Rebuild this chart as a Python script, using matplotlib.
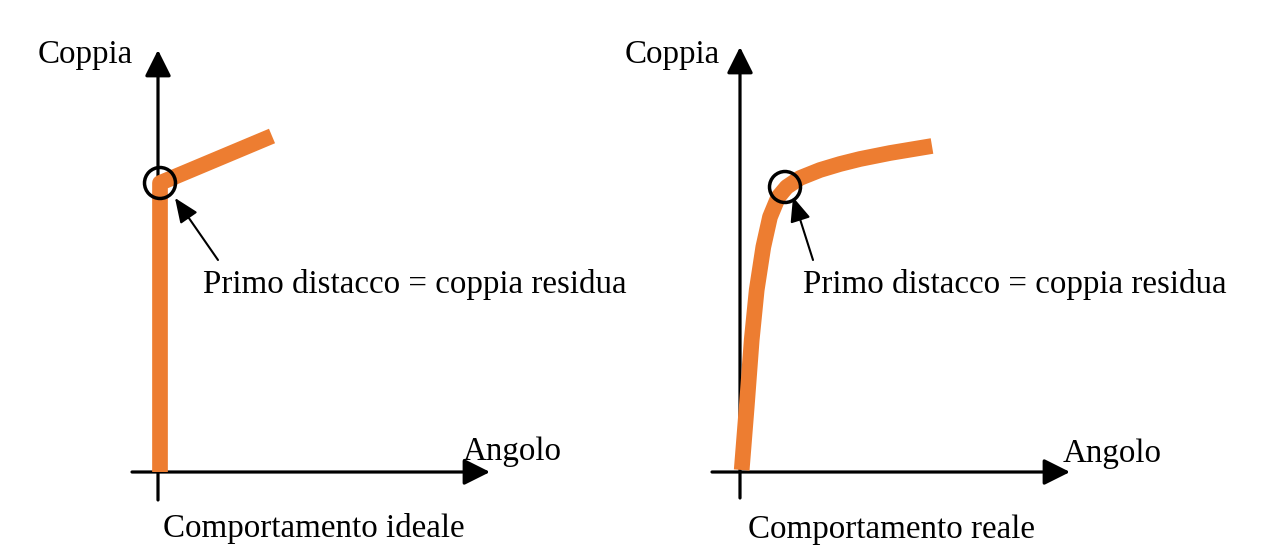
import matplotlib.pyplot as plt
from matplotlib.patches import Circle, FancyArrowPatch

# Comportamento ideale: verticale fino al primo distacco, poi retta
ideal_angle = [0.2, 0.2, 11.4]
ideal_torque = [0.0, 28.9, 33.6]

# Comportamento reale: salita curva fino al primo distacco
real_angle = [0.17, 0.67, 1.17, 1.67, 2.33, 3.0, 3.83, 4.67, 6.0, 8.0, 10.0, 12.0, 15.0, 19.2]
real_torque = [0.2, 6.5, 13.2, 18.2, 22.5, 25.5, 27.5, 28.5, 29.4, 30.2, 30.8, 31.3, 31.9, 32.6]

# primo distacco (centro del cerchio)
ideal_break = (0.2, 28.9)
real_break = (4.5, 28.5)

ORANGE = '#ED7D31'
FONT = 'Liberation Serif'
FS = 23.8

fig = plt.figure(figsize=(12.63, 5.51), dpi=100)


def make_axes(x_origin_px, y_origin_px=472):
    # 1 unita' = 10 px, origine degli assi nel punto indicato
    ax = fig.add_axes([0, 0, 1, 1])
    ax.set_xlim(-x_origin_px / 10, (1263 - x_origin_px) / 10)
    ax.set_ylim(-(551 - y_origin_px) / 10, y_origin_px / 10)
    ax.axis('off')
    ax.patch.set_alpha(0)
    return ax


def axis_arrow(ax, start, end):
    ax.add_patch(FancyArrowPatch(start, end, arrowstyle='-|>,head_length=16,head_width=8',
                                 mutation_scale=1, lw=2.3, color='black',
                                 shrinkA=0, shrinkB=0, zorder=1))


def draw_panel(ax, angle, torque, brk, y_tip, x_tip, y_bot, x_left, ann_from, ann_to):
    axis_arrow(ax, (0, y_bot), (0, y_tip))
    axis_arrow(ax, (x_left, 0), (x_tip, 0))
    ax.plot(angle, torque, color=ORANGE, lw=11.3, solid_joinstyle='round',
            solid_capstyle='butt', zorder=2)
    ax.add_patch(Circle(brk, 1.55, fill=False, ec='black', lw=2.5, zorder=3))
    ax.add_patch(FancyArrowPatch(ann_from, ann_to, arrowstyle='-|>,head_length=15,head_width=6.3',
                                 mutation_scale=1, lw=1.5, color='black',
                                 shrinkA=0, shrinkB=0, zorder=3))


ax1 = make_axes(158)
draw_panel(ax1, ideal_angle, ideal_torque, ideal_break, 42.2, 33.2, -2.8, -2.6,
           (6.0, 21.2), (1.7, 27.4))
ax1.text(-12.0, 40.9, 'Coppia', family=FONT, fontsize=FS, va='baseline')
ax1.text(30.5, 1.2, 'Angolo', family=FONT, fontsize=FS, va='baseline')
ax1.text(4.5, 17.9, 'Primo distacco = coppia residua', family=FONT, fontsize=FS, va='baseline')
ax1.text(0.5, -6.5, 'Comportamento ideale', family=FONT, fontsize=FS, va='baseline')

ax2 = make_axes(740)
draw_panel(ax2, real_angle, real_torque, real_break, 42.5, 33.0, -2.6, -2.8,
           (7.3, 21.2), (5.3, 27.5))
ax2.text(-11.5, 40.9, 'Coppia', family=FONT, fontsize=FS, va='baseline')
ax2.text(32.3, 1.0, 'Angolo', family=FONT, fontsize=FS, va='baseline')
ax2.text(6.3, 17.9, 'Primo distacco = coppia residua', family=FONT, fontsize=FS, va='baseline')
ax2.text(0.8, -6.6, 'Comportamento reale', family=FONT, fontsize=FS, va='baseline')

fig.savefig('out.png', dpi=100)
